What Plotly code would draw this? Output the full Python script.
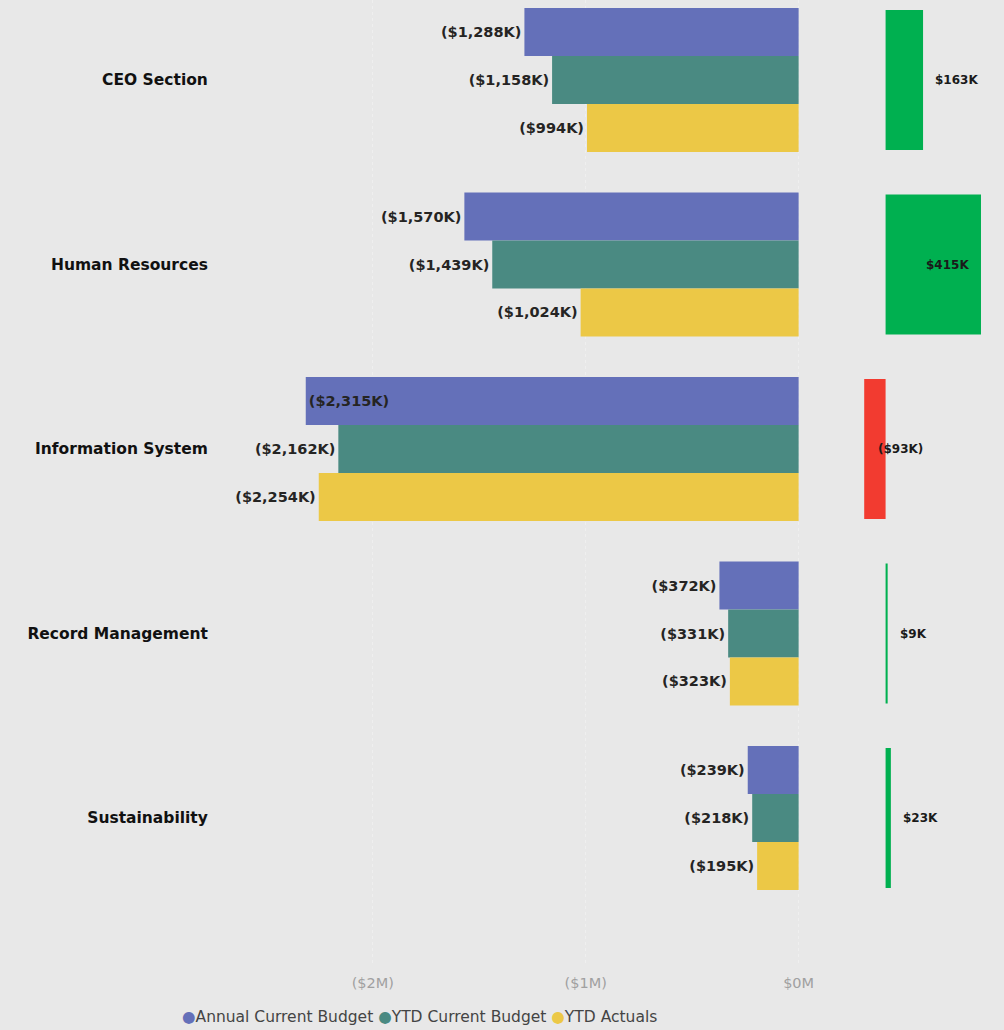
import plotly.graph_objects as go

categories = ["CEO Section", "Human Resources", "Information System", "Record Management", "Sustainability"]
annual_budget = [-1288, -1570, -2315, -372, -239]   # $K
ytd_budget = [-1158, -1439, -2162, -331, -218]      # $K
ytd_actuals = [-994, -1024, -2254, -323, -195]      # $K
variance = [163, 415, -93, 9, 23]                   # $K (YTD budget vs actuals)

series_names = ["Annual Current Budget", "YTD Current Budget", "YTD Actuals"]
series_colors = ["#6470b9", "#4a8a82", "#ecc846"]
tick_vals = [-2000, -1000, 0]
tick_text = ["($2M)", "($1M)", "$0M"]

W, H = 1004, 1030
BG = "#e8e8e8"
FONT = "DejaVu Sans"
SX = 1 / 0.9915  # horizontal compensation for the capture


def fmt(v):
    s = "${:,.0f}K".format(abs(v))
    return "(" + s + ")" if v < 0 else s


fig = go.Figure()
label_font = dict(family=FONT, size=14.5, color="#252423")
for name, vals, col in zip(series_names, [annual_budget, ytd_budget, ytd_actuals], series_colors):
    fig.add_trace(go.Bar(
        y=categories, x=vals, orientation="h", name=name,
        marker=dict(color=col, line=dict(width=0)),
        text=["<b>" + fmt(v) + "</b>" for v in vals],
        textposition=["inside" if v < -2300 else "outside" for v in vals],
        insidetextanchor="end",
        textfont=label_font, outsidetextfont=label_font, insidetextfont=label_font,
        cliponaxis=False, showlegend=False, hoverinfo="skip",
        xaxis="x", yaxis="y",
    ))

# variance bars
fig.add_trace(go.Bar(
    y=categories, x=variance, orientation="h", width=0.76,
    marker=dict(color=["#00b050" if v >= 0 else "#f23b30" for v in variance], line=dict(width=0)),
    showlegend=False, hoverinfo="skip", xaxis="x2", yaxis="y",
))

for cat, v in zip(categories, variance):
    big = v > 300
    fig.add_annotation(
        x=v if big else max(v, 0), y=cat, xref="x2", yref="y",
        text="<b>" + fmt(v) + "</b>", showarrow=False,
        xanchor="right" if big else "left",
        xshift=-10 if (big or v < 0) else 10,
        font=dict(family=FONT, size=12, color="#1a1a1a"),
    )

plot_top, plot_bot = 0, 965
cat_step, cat0 = 184.5, 80
y_top = (plot_top - cat0) / cat_step
y_bot = (plot_bot - cat0) / cat_step

k1 = 0.213 * SX  # px per $K, left chart
x0_px = 799 * SX
l1, r1 = 215 * SX, 805 * SX
k2 = 0.23 * SX   # px per $K, variance chart
z2_px = 886 * SX
l2, r2 = 850 * SX, 1004

# legend drawn as one line of coloured dots and series names
legend_text = " ".join(
    "<span style='color:%s'>\u25CF</span>%s" % (c, n) for n, c in zip(series_names, series_colors)
)
fig.add_annotation(
    x=182 / W, y=-(1017 - plot_bot) / (plot_bot - plot_top), xref="paper", yref="paper",
    xanchor="left", yanchor="middle", showarrow=False, text=legend_text,
    font=dict(family=FONT, size=15.5, color="#444"),
)

fig.update_layout(
    width=W, height=H,
    paper_bgcolor=BG, plot_bgcolor=BG,
    margin=dict(l=0, r=0, t=plot_top, b=H - plot_bot, pad=0),
    barmode="group", bargap=0.22, bargroupgap=0,
    font=dict(family=FONT, color="#333"),
    showlegend=False,
    xaxis=dict(
        domain=[l1 / W, r1 / W],
        range=[-(x0_px - l1) / k1, (r1 - x0_px) / k1],
        tickvals=tick_vals, ticktext=tick_text,
        tickfont=dict(family=FONT, size=14.5, color="#a0a0a0"),
        showgrid=True, gridcolor="#efefef", griddash="dot", gridwidth=1,
        zeroline=False, showline=False, ticks="", ticklabelstandoff=7,
        fixedrange=True,
    ),
    xaxis2=dict(
        domain=[l2 / W, r2 / W], anchor="y",
        range=[-(z2_px - l2) / k2, (r2 - z2_px) / k2],
        showgrid=False, zeroline=False, showline=False, showticklabels=False, ticks="",
        fixedrange=True,
    ),
    yaxis=dict(
        range=[y_bot, y_top], type="category",
        tickfont=dict(family=FONT, size=15.5, color="#111"),
        showgrid=False, zeroline=False, showline=False, ticks="",
        ticklabelstandoff=6, automargin=False,
        tickprefix="<b>", ticksuffix="</b>",
        fixedrange=True,
    ),
)

post = (
    "document.documentElement.style.margin='0';"
    "document.documentElement.style.overflow='hidden';"
    "document.body.style.margin='0';"
    "document.body.style.overflow='hidden';"
    "var gd=document.getElementById('{plot_id}');"
    "gd.style.display='block';"
    "if(gd.parentElement){gd.parentElement.style.height='1030px';gd.parentElement.style.overflow='hidden';gd.parentElement.style.lineHeight='0';}"
)
fig.write_html("out.html", post_script=post, config={"displayModeBar": False})
